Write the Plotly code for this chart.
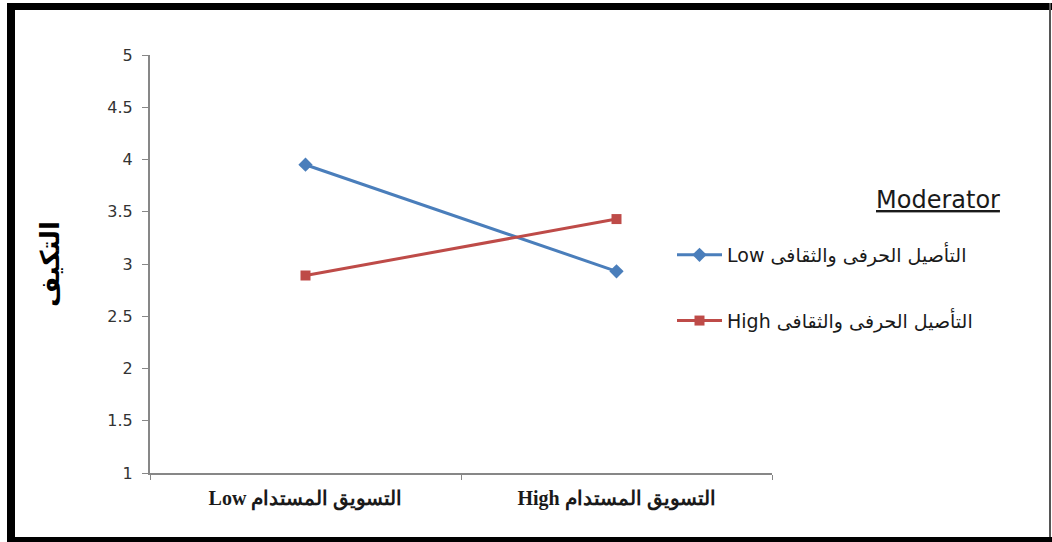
import plotly.graph_objects as go

# Interaction plot: sustainable marketing (x) by craft & cultural rooting (moderator)
categories = ["Low التسويق المستدام", "High التسويق المستدام"]
series_names = ["Low التأصيل الحرفى والثقافى", "High التأصيل الحرفى والثقافى"]
low_moderator = [3.95, 2.93]
high_moderator = [2.89, 3.43]
y_ticks = [1, 1.5, 2, 2.5, 3, 3.5, 4, 4.5, 5]
y_title = "التكيف"
legend_title = "Moderator"

W, H = 1052, 542
L, R, T, B = 150, 280, 55, 69
PW, PH = W - L - R, H - T - B


def px_x(p):
    return (p - L) / PW


def px_y(p):
    return (H - B - p) / PH


fig = go.Figure()
fig.add_trace(go.Scatter(
    x=categories, y=low_moderator, name=series_names[0], mode="lines+markers",
    line=dict(color="#4A7EBB", width=3),
    marker=dict(symbol="diamond", size=11, color="#4A7EBB"),
    legendgroup="a",
))
fig.add_trace(go.Scatter(
    x=categories, y=high_moderator, name=series_names[1], mode="lines+markers",
    line=dict(color="#BE4B48", width=3),
    marker=dict(symbol="square", size=10, color="#BE4B48"),
    legendgroup="b",
))

axis_gray = "#878787"
fig.update_layout(
    width=W, height=H,
    margin=dict(l=L, r=R, t=T, b=B, autoexpand=False),
    paper_bgcolor="white", plot_bgcolor="white",
    showlegend=True,
    legend=dict(
        x=px_x(672), y=px_y(236), xanchor="left", yanchor="top",
        font=dict(family="DejaVu Sans", size=19, color="#1a1a1a"),
        tracegroupgap=38, itemwidth=45, traceorder="grouped",
        bgcolor="rgba(0,0,0,0)",
    ),
    xaxis=dict(
        type="category", range=[-0.5, 1.5],
        showline=True, linecolor=axis_gray, linewidth=2,
        ticks="outside", tickson="boundaries", ticklen=5, tickcolor=axis_gray,
        showgrid=False, zeroline=False,
        tickfont=dict(family="Liberation Serif, DejaVu Serif", size=20, color="#1a1a1a",
                      weight="bold"),
        ticklabelstandoff=6,
    ),
    yaxis=dict(
        range=[1, 5], tickvals=y_ticks,
        showline=True, linecolor=axis_gray, linewidth=2,
        ticks="outside", ticklen=6, tickcolor=axis_gray,
        showgrid=False, zeroline=False,
        tickfont=dict(family="DejaVu Sans", size=16, color="#333333"),
        ticklabelstandoff=6,
        title=dict(text=y_title, standoff=40,
                   font=dict(family="DejaVu Sans", size=26, color="black", weight="bold")),
    ),
)

# Legend heading, underlined
fig.add_annotation(
    xref="paper", yref="paper", x=px_x(1002), y=px_y(200),
    xanchor="right", yanchor="middle", showarrow=False,
    text=legend_title,
    font=dict(family="DejaVu Sans", size=24, color="#1a1a1a", lineposition="under"),
)

# Frame around the chart
frame = [
    (7, 3, 1052, 10, "black"),      # top
    (7, 3, 15, 542, "black"),       # left
    (7, 537, 1052, 542, "black"),   # bottom
    (1049, 3, 1051, 537, "#555555"),  # right
]
for x0, y0, x1, y1, col in frame:
    fig.add_shape(type="rect", xref="paper", yref="paper",
                  x0=px_x(x0), x1=px_x(x1), y0=px_y(y1), y1=px_y(y0),
                  fillcolor=col, line=dict(width=0), layer="above")

fig.write_html("out.html")
